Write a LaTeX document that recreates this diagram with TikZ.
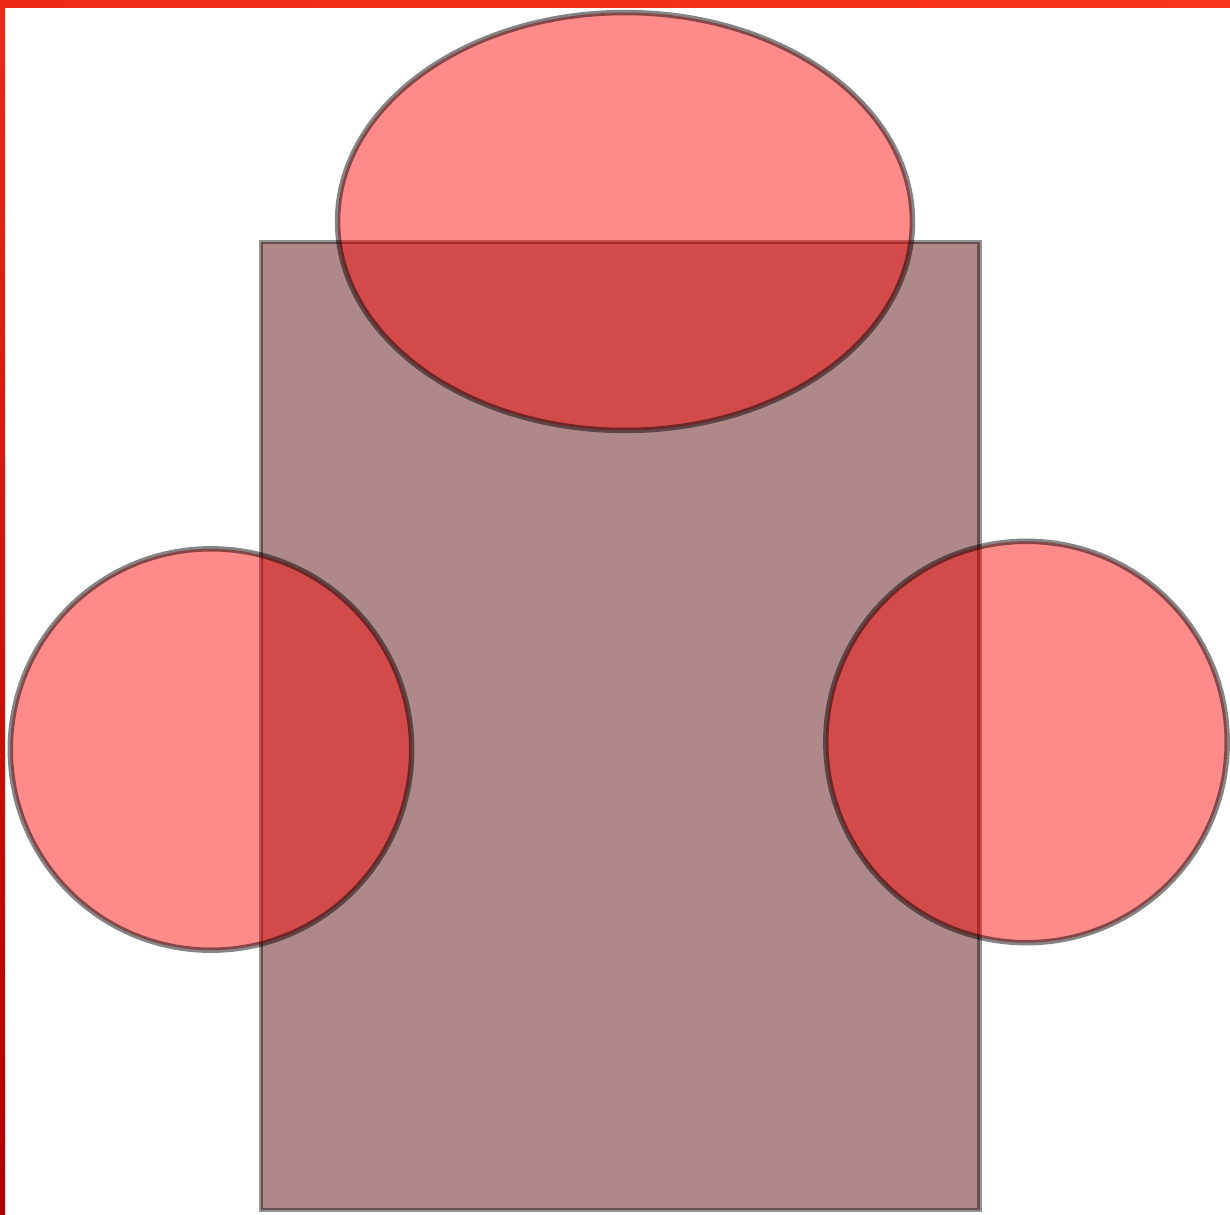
\documentclass[tikz,border=0pt]{standalone}
\usetikzlibrary{shapes.geometric}
\definecolor{blobred}{RGB}{255,0,0}
\definecolor{boxbrown}{RGB}{97,21,21}
\definecolor{edgegray}{RGB}{0,0,0}
\definecolor{frametop}{RGB}{236,42,22}
\definecolor{frameright}{RGB}{250,52,26}
\definecolor{framebottom}{RGB}{176,0,0}
\tikzset{
  blob/.style={draw=edgegray, draw opacity=0.48, fill=blobred, fill opacity=0.46,
    line width=3.1pt, inner sep=0pt, outer sep=0pt},
  blobcirc/.style={blob, circle, minimum size=8.03cm},
  blobellipse/.style={blob, ellipse, minimum width=11.5cm, minimum height=8.36cm},
  bodybox/.style={draw=edgegray, draw opacity=0.42, fill=boxbrown, fill opacity=0.5,
    line width=2.4pt},
}

\begin{document}
\begin{tikzpicture}[x=0.02cm, y=-0.02cm]
  \useasboundingbox (0,0) rectangle (1230,1214);
  \fill[white] (0,0) rectangle (1230,1214);

  % --- body ---
  \draw[bodybox] (261,242) rectangle (979.5,1210);

  % --- head and hands ---
  \node[blobellipse] (head) at (625,221.5) {};
  \node[blobcirc] (lefthand) at (211,749.5) {};
  \node[blobcirc] (righthand) at (1026.5,742) {};

  % --- frame edges ---
  \shade[left color=frametop, right color=frameright] (0,0) rectangle (1230,7);
  \shade[top color=frametop, bottom color=framebottom] (0,0) rectangle (5,1214);
\end{tikzpicture}
\end{document}
